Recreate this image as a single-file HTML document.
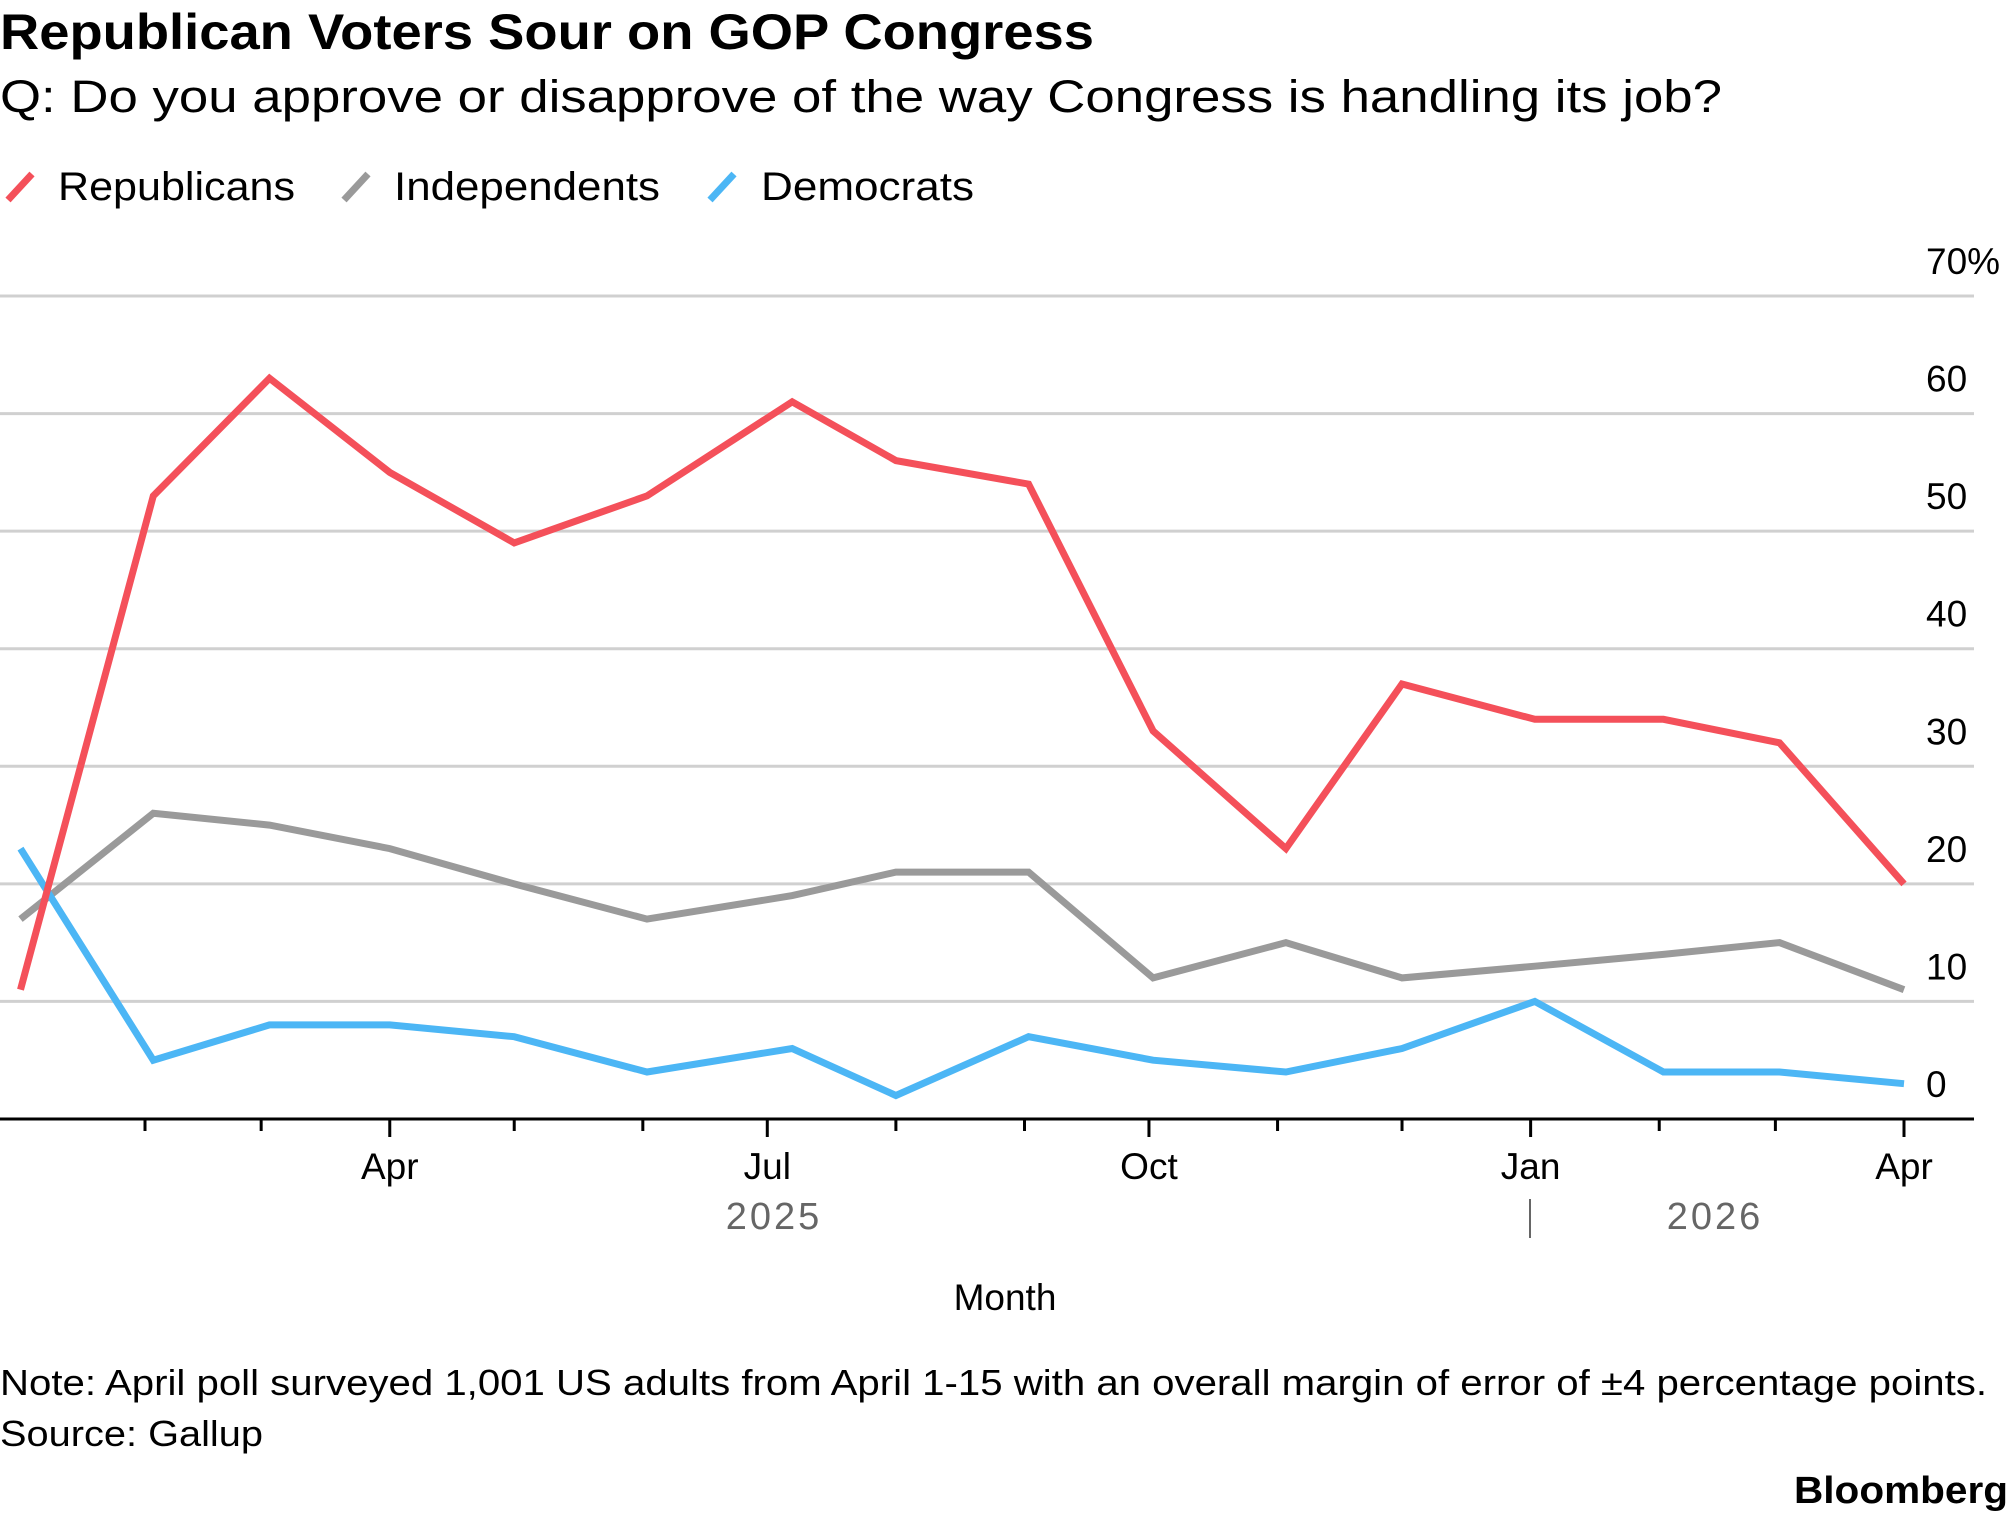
<!DOCTYPE html>
<html><head><meta charset="utf-8"><style>
html,body{margin:0;padding:0;background:#fff;}
svg{display:block;font-family:"Liberation Sans",sans-serif;}
</style></head><body>
<svg id="chart" width="2010" height="1518" viewBox="0 0 2010 1518" xmlns="http://www.w3.org/2000/svg">
<text x="0" y="49" font-size="50" font-weight="bold" textLength="1094" lengthAdjust="spacingAndGlyphs">Republican Voters Sour on GOP Congress</text>
<text x="0" y="112" font-size="45" textLength="1722" lengthAdjust="spacingAndGlyphs">Q: Do you approve or disapprove of the way Congress is handling its job?</text>
<g>
 <g><line x1="8" y1="200" x2="32" y2="174" stroke="#f4505a" stroke-width="7"/><text x="58" y="200" font-size="40" textLength="237" lengthAdjust="spacingAndGlyphs">Republicans</text></g>
 <g><line x1="344" y1="200" x2="368" y2="174" stroke="#9a9a9a" stroke-width="7"/><text x="394" y="200" font-size="40" textLength="266" lengthAdjust="spacingAndGlyphs">Independents</text></g>
 <g><line x1="710" y1="200" x2="734" y2="174" stroke="#4cb6f5" stroke-width="7"/><text x="761" y="200" font-size="40" textLength="213" lengthAdjust="spacingAndGlyphs">Democrats</text></g>
</g>
<g id="grid"></g>
<g id="ylabels"></g>
<g id="series"></g>
<g id="xaxis"></g>
<text x="774" y="1229" font-size="38" fill="#666" text-anchor="middle" letter-spacing="3">2025</text>
<text x="1715" y="1229" font-size="38" fill="#666" text-anchor="middle" letter-spacing="3">2026</text>
<line x1="1530" y1="1199" x2="1530" y2="1238" stroke="#666" stroke-width="2"/>
<text x="1005" y="1310" font-size="37" text-anchor="middle">Month</text>
<text x="0" y="1395" font-size="36" textLength="1987" lengthAdjust="spacingAndGlyphs">Note: April poll surveyed 1,001 US adults from April 1-15 with an overall margin of error of ±4 percentage points.</text>
<text x="0" y="1446" font-size="36" textLength="263" lengthAdjust="spacingAndGlyphs">Source: Gallup</text>
<text x="2008" y="1503" font-size="38" font-weight="bold" text-anchor="end" textLength="214" lengthAdjust="spacingAndGlyphs">Bloomberg</text>
</svg>
<script>
const pollDates = ["2025-01-02","2025-02-03","2025-03-03","2025-04-01","2025-05-01","2025-06-02","2025-07-07","2025-08-01","2025-09-02","2025-10-02","2025-11-03","2025-12-01","2026-01-02","2026-02-02","2026-03-02","2026-04-01"];
const republicans = [11,53,63,55,49,53,61,56,54,33,23,37,34,34,32,20];
const independents = [17,26,25,23,20,17,19,21,21,12,15,12,13,14,15,11];
const democrats = [23,5,8,8,7,4,6,2,7,5,4,6,10,4,4,3];
const yTicks = [0,10,20,30,40,50,60,70];
const tickMonths = ["2025-02-01","2025-03-01","2025-04-01","2025-05-01","2025-06-01","2025-07-01","2025-08-01","2025-09-01","2025-10-01","2025-11-01","2025-12-01","2026-01-01","2026-02-01","2026-03-01","2026-04-01"];
const tickLabels = ["","","Apr","","","Jul","","","Oct","","","Jan","","","Apr"];

const NS="http://www.w3.org/2000/svg";
const t0=Date.parse("2025-02-01"), t1=Date.parse("2026-04-01");
function xScale(d){return 145+(Date.parse(d)-t0)/(t1-t0)*(1904-145);}
function yScale(v){return 1119-v*(1119-296)/70;}
function mk(tag,attrs,parent){const e=document.createElementNS(NS,tag);for(const k in attrs)e.setAttribute(k,attrs[k]);parent.appendChild(e);return e;}

const grid=document.getElementById('grid'), yl=document.getElementById('ylabels');
yTicks.forEach((v,i)=>{
  if(v>0){const l=mk('line',{x1:0,x2:1974,y1:yScale(v),y2:yScale(v),stroke:'#d0d0d0','stroke-width':3},grid);
  
  }
  const t=mk('text',{x:1926,y:yScale(v)-22,'font-size':37},yl);
  t.textContent=v+(i===yTicks.length-1?'%':'');
  
  
});

const series=document.getElementById('series');
[[independents,'#9a9a9a','independents-line'],[democrats,'#4cb6f5','democrats-line'],[republicans,'#f4505a','republicans-line']].forEach(([vals,col,name])=>{
  const pts=vals.map((v,i)=>xScale(pollDates[i]).toFixed(1)+','+yScale(v).toFixed(1)).join(' ');
  const p=mk('polyline',{points:pts,fill:'none',stroke:col,'stroke-width':7,'stroke-linejoin':'miter'},series);
  
  
});

const xa=document.getElementById('xaxis');
const axl=mk('line',{x1:0,x2:1974,y1:1119,y2:1119,stroke:'#000','stroke-width':3},xa);


tickMonths.forEach((d,i)=>{
  const x=xScale(d), major=tickLabels[i]!=='';
  const tk=mk('line',{x1:x,x2:x,y1:1119,y2:major?1137:1131,stroke:'#000','stroke-width':3},xa);
  
  
  if(major){const t=mk('text',{x:x,y:1179,'font-size':37,'text-anchor':'middle'},xa);
    t.textContent=tickLabels[i];
    
    }
});
</script>
</body></html>
